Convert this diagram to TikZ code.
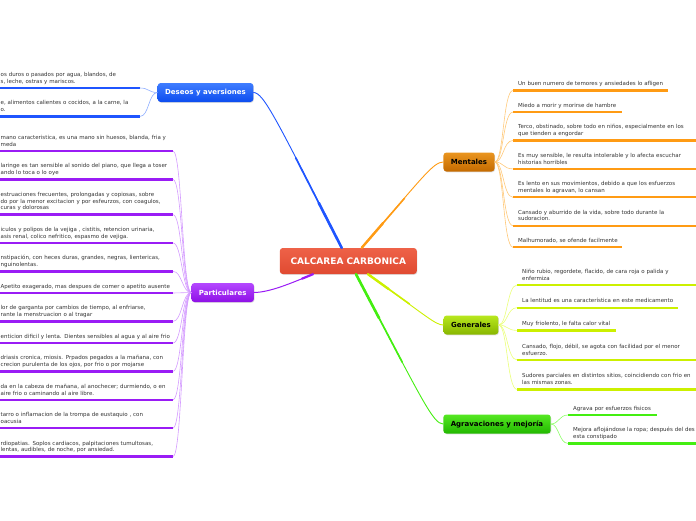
\documentclass[tikz,border=0pt]{standalone}
\usepackage{fontspec}
\setmainfont{DejaVu Sans}
\usetikzlibrary{positioning, shadows}

\definecolor{roottop}{HTML}{EE6248}
\definecolor{rootbot}{HTML}{E04A31}
\definecolor{destop}{HTML}{3F7DFF}
\definecolor{desbot}{HTML}{0C4CEF}
\definecolor{partop}{HTML}{B448FF}
\definecolor{parbot}{HTML}{8E10E6}
\definecolor{mentop}{HTML}{EA951F}
\definecolor{menbot}{HTML}{C46A00}
\definecolor{gentop}{HTML}{B8E81E}
\definecolor{genbot}{HTML}{88B600}
\definecolor{agrtop}{HTML}{55E822}
\definecolor{agrbot}{HTML}{22B800}
\definecolor{desline}{HTML}{1F55FF}
\definecolor{parline}{HTML}{9A1CF5}
\definecolor{menline}{HTML}{FF9B14}
\definecolor{genline}{HTML}{CCF000}
\definecolor{agrline}{HTML}{44EE11}
\definecolor{deslink}{HTML}{8FAEFF}
\definecolor{parlink}{HTML}{D49BFF}
\definecolor{menlink}{HTML}{FFC97A}
\definecolor{genlink}{HTML}{EAFF7A}
\definecolor{agrlink}{HTML}{8CFF66}
\definecolor{leafgray}{HTML}{333333}

\begin{document}
\begin{tikzpicture}[
			x=1pt, y=-1pt,
			node distance=9.4pt,
			every node/.style={font=\fontsize{5.5}{6.8}\selectfont, text=leafgray},
			root/.style={rounded corners=3pt, minimum width=137pt, minimum height=26pt, top color=roottop, bottom color=rootbot, text=white, font=\bfseries\fontsize{9}{10}\selectfont, drop shadow={shadow xshift=0.6pt, shadow yshift=-0.8pt, opacity=0.25}},
			branch/.style={rounded corners=3pt, inner xsep=7.5pt, minimum height=19pt, font=\bfseries\fontsize{7}{8}\selectfont, drop shadow={shadow xshift=0.6pt, shadow yshift=-0.8pt, opacity=0.25}},
			leaf/.style={anchor=south west, text width=185pt, align=left, inner xsep=5pt, inner ysep=2.5pt, execute at begin node=\strut, execute at end node=\strut},
			uline/.style={line width=2.3pt},
			link/.style={line width=0.6pt},
			main/.style={line cap=round}
			]
			\useasboundingbox (0,0) rectangle (696,520);
			
			% Main nodes
			\node (cc) [root] at (348.3,261) {CALCAREA CARBONICA};
			\node (des) [branch, top color=destop, bottom color=desbot, text=white] at (205.5,92.5) {Deseos y aversiones};
			\node (par) [branch, top color=partop, bottom color=parbot, text=white] at (222.7,292.5) {Particulares};
			\node (men) [branch, top color=mentop, bottom color=menbot, text=black] at (469,162) {Mentales};
			\node (gen) [branch, top color=gentop, bottom color=genbot, text=black] at (471,325) {Generales};
			\node (agr) [branch, top color=agrtop, bottom color=agrbot, text=black] at (497,424) {Agravaciones y mejoría};
			
			% Deseos y aversiones
			\node (d1) [leaf] at (-4.5,88) {os duros  o pasados por agua, blandos, de\\s, leche, ostras y mariscos.};
			\node (d2) [leaf, below=of d1.south west, anchor=north west] {e, alimentos calientes o cocidos, a la carne, la\\o.};
			
			% Particulares
			\node (p1) [leaf] at (-4.5,151) {mano caracteristica, es una mano sin huesos, blanda, fria y\\meda};
			\node (p2) [leaf, below=of p1.south west, anchor=north west] {laringe es tan sensible al sonido del piano, que llega a toser\\ando lo toca o lo oye};
			\node (p3) [leaf, below=of p2.south west, anchor=north west] {estruaciones frecuentes, prolongadas y copiosas, sobre\\do por la menor excitacion y por esfeurzos, con coagulos,\\curas y dolorosas};
			\node (p4) [leaf, below=of p3.south west, anchor=north west] {iculos y polipos de la vejiga , cistitis, retencion urinaria,\\asis renal, colico nefritico, espasmo de vejiga.};
			\node (p5) [leaf, below=of p4.south west, anchor=north west] {nstipación, con heces duras, grandes, negras, lientericas,\\nguinolentas.};
			\node (p6) [leaf, below=of p5.south west, anchor=north west] {Apetito exagerado, mas despues de comer o apetito ausente};
			\node (p7) [leaf, below=of p6.south west, anchor=north west] {lor de garganta por cambios de tiempo, al enfriarse,\\rante la menstruacion o al tragar};
			\node (p8) [leaf, below=of p7.south west, anchor=north west] {enticion dificil y lenta. Dientes sensibles al agua y al aire frio};
			\node (p9) [leaf, below=of p8.south west, anchor=north west] {driasis cronica, miosis. Prpados pegados a la mañana, con\\crecion purulenta de los ojos, por frio o por mojarse};
			\node (p10) [leaf, below=of p9.south west, anchor=north west] {da en la cabeza de mañana, al anochecer; durmiendo, o en\\aire frio o caminando al aire libre.};
			\node (p11) [leaf, below=of p10.south west, anchor=north west] {tarro o inflamacion de la trompa de eustaquio , con\\oacusia};
			\node (p12) [leaf, below=of p11.south west, anchor=north west] {rdiopatias. Soplos cardiacos, palpitaciones tumultosas,\\lentas, audibles, de noche, por ansiedad.};
			
			% Mentales
			\node (m1) [leaf] at (513,90.5) {Un buen numero de temores y ansiedades lo afligen};
			\node (m2) [leaf, below=of m1.south west, anchor=north west] {Miedo a morir y morirse de hambre};
			\node (m3) [leaf, below=of m2.south west, anchor=north west] {Terco, obstinado, sobre todo en niños, especialmente en los\\que tienden a engordar};
			\node (m4) [leaf, below=of m3.south west, anchor=north west] {Es muy sensible, le resulta intolerable y lo afecta escuchar\\historias horribles};
			\node (m5) [leaf, below=of m4.south west, anchor=north west] {Es lento en sus movimientos, debido a que los esfuerzos\\mentales lo agravan, lo cansan};
			\node (m6) [leaf, below=of m5.south west, anchor=north west] {Cansado y aburrido de la vida, sobre todo durante la\\sudoracion.};
			\node (m7) [leaf, below=of m6.south west, anchor=north west] {Malhumorado, se ofende facilmente};
			
			% Generales
			\node (g1) [leaf] at (517,285) {Niño rubio, regordete, flacido, de cara roja o palida y\\enfermiza};
			\node (g2) [leaf, below=10.5pt of g1.south west, anchor=north west] {La lentitud es una característica en este medicamento};
			\node (g3) [leaf, below=10.5pt of g2.south west, anchor=north west] {Muy friolento, le falta calor vital};
			\node (g4) [leaf, below=10.5pt of g3.south west, anchor=north west] {Cansado, flojo, débil, se agota con facilidad por el menor\\esfuerzo.};
			\node (g5) [leaf, below=10.5pt of g4.south west, anchor=north west] {Sudores parciales en distintos sitios, coincidiendo con frio en\\las mismas zonas.};
			
			% Agravaciones y mejoria
			\node (a1) [leaf] at (568,415) {Agrava por esfuerzos fisicos};
			\node (a2) [leaf, below=of a1.south west, anchor=north west] {Mejora aflojándose la ropa; después del des\\esta constipado};
			
			% Underlines
			\foreach \i in {1,2}
				\draw [uline, desline] (d\i.south west) -- ++(144.5,0) coordinate (de\i);
			\foreach \i in {1,...,12}
				\draw [uline, parline] (p\i.south west) -- ++(177.5,0) coordinate (pe\i);
			\foreach \i/\l in {1/155, 2/109, 3/190, 4/190, 5/190, 6/190, 7/109}
				\draw [uline, menline] (m\i.south west) -- ++(\l,0);
			\foreach \i/\l in {1/190, 2/161, 3/99, 4/190, 5/190}
				\draw [uline, genline] (g\i.south west) -- ++(\l,0);
			\foreach \i/\l in {1/89, 2/190}
				\draw [uline, agrline] (a\i.south west) -- ++(\l,0);
			
			% Leaf connections
			\foreach \i in {1,2}
				\draw [link, deslink] (de\i) .. controls +(9,0) and +(-9,0) .. (des.west);
			\foreach \i in {1,...,12}
				\draw [link, parlink] (pe\i) .. controls +(9,0) and +(-9,0) .. (par.west);
			\foreach \i in {1,...,7}
				\draw [link, menlink] (men.east) .. controls +(9,0) and +(-10,0) .. (m\i.south west);
			\foreach \i in {1,...,5}
				\draw [link, genlink] (gen.east) .. controls +(9,0) and +(-10,0) .. (g\i.south west);
			\foreach \i in {1,2}
				\draw [link, agrlink] (agr.east) .. controls +(8,0) and +(-9,0) .. (a\i.south west);
			
			% Main connections
			\coordinate (sdes) at ([xshift=-6.6pt]cc.north);
			\coordinate (smen) at ([xshift=13.4pt]cc.north);
			\coordinate (spar) at ([xshift=-35.3pt]cc.south);
			\coordinate (sgen) at ([xshift=19.7pt]cc.south);
			\coordinate (sagr) at ([xshift=7.7pt]cc.south);
			
			\draw [main, desline, line width=0.9pt] (sdes) .. controls +(-65,-128) and +(10,0) .. (des.east);
			\draw [main, desline, line width=1.7pt] (sdes) -- +(-46,-90);
			\draw [main, desline, line width=2.6pt] (sdes) -- +(-23,-45);
			
			\draw [main, menline, line width=0.9pt] (smen) .. controls +(60.6,-70.1) and +(-10,0) .. (men.west);
			\draw [main, menline, line width=1.6pt] (smen) -- +(42.8,-49.5);
			\draw [main, menline, line width=2.4pt] (smen) -- +(21.4,-24.8);
			
			\draw [main, parline, line width=1pt] (spar) .. controls +(-22,9) and +(16,0) .. (des.east |- par.east) -- (par.east);
			\draw [main, parline, line width=2.2pt] (spar) -- +(-11,4.5);
			
			\draw [main, genline, line width=0.9pt] (sgen) .. controls +(58.7,42.1) and +(-8,0) .. (gen.west);
			\draw [main, genline, line width=1.6pt] (sgen) -- +(41.4,29.7);
			\draw [main, genline, line width=2.4pt] (sgen) -- +(20.7,14.9);
			
			\draw [main, agrline, line width=0.9pt] (sagr) .. controls +(65.5,124.5) and +(-10,0) .. (agr.west);
			\draw [main, agrline, line width=1.7pt] (sagr) -- +(46.2,87.9);
			\draw [main, agrline, line width=2.6pt] (sagr) -- +(23.1,44);
			
		\end{tikzpicture}
\end{document}
